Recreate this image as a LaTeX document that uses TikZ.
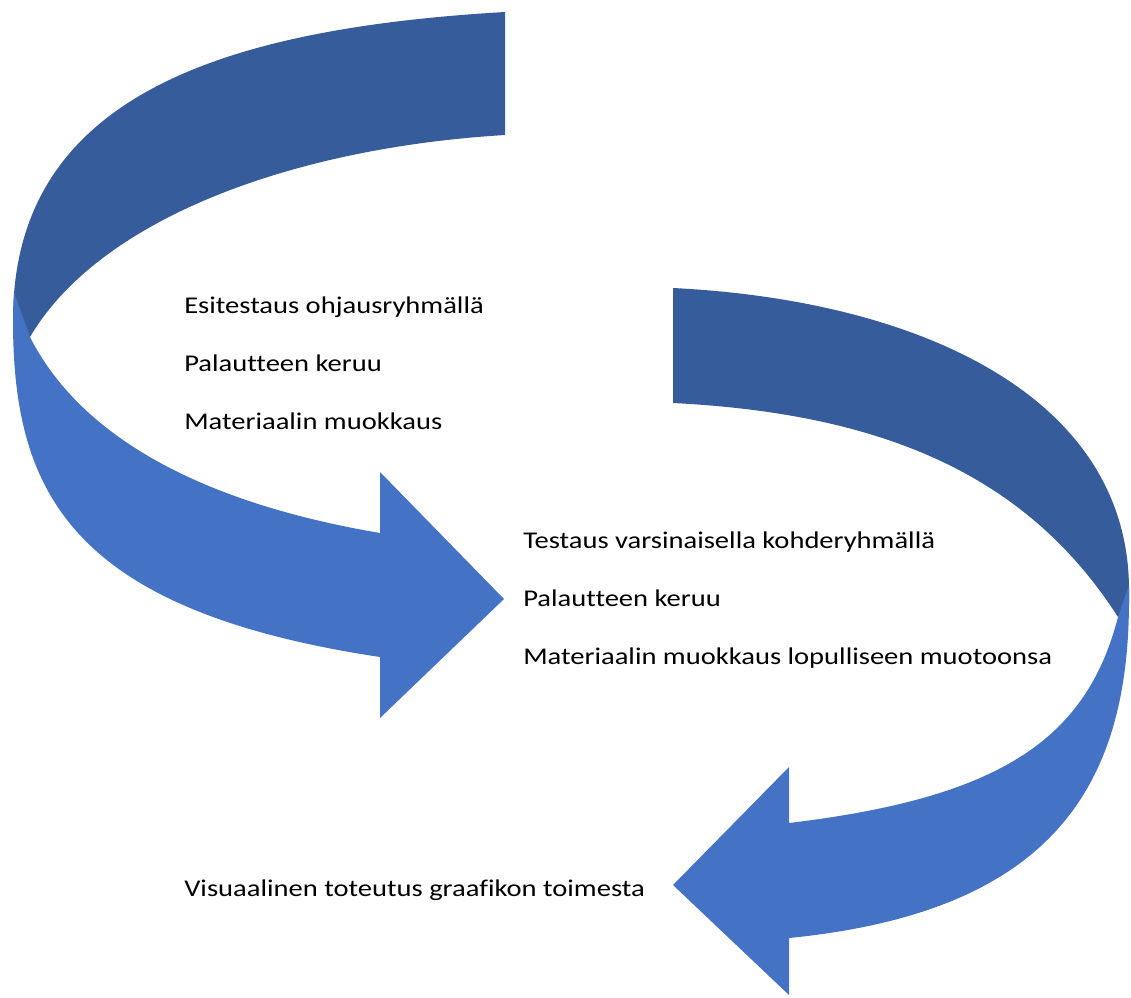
\documentclass[tikz,border=0pt]{standalone}
\usepackage{fontspec}
\setmainfont{Carlito}[FakeStretch=1.19, Ligatures=NoCommon]
\usetikzlibrary{positioning}
\definecolor{backblue}{HTML}{365C9B}
\definecolor{frontblue}{HTML}{4472C4}

\begin{document}
\begin{tikzpicture}[x=0.75pt,y=-0.75pt,node distance=27.1pt]
\tikzstyle{every node}=[font=\fontsize{18}{22}\selectfont, inner sep=0pt, text height=12.5pt, text depth=3.5pt, anchor=north west]
\tikzstyle{back}=[fill=backblue]
\tikzstyle{front}=[fill=frontblue]
\useasboundingbox (0,0) rectangle (1131,997);
% first arrow: back band, then front band with head
\fill[back] (505,12) .. controls (214,29) and (13,100) .. (13,320) -- (13,335) -- (30,337)
  .. controls (100.2,217.7) and (294.8,147.6) .. (505,135) -- cycle;
\fill[front] (14,292) -- (13,320) .. controls (13,491) and (69,610) .. (380,657)
  -- (380,718) -- (504,599) -- (380,472) -- (380,533)
  .. controls (156.6,495) and (66.7,409.6) .. (30,337) -- cycle;
% second arrow
\fill[back] (673,288) .. controls (923.7,300.5) and (1129,398.8) .. (1129,590) -- (1129,605) -- (1118,617)
  .. controls (1030.4,480.7) and (892.6,414) .. (673,403) -- cycle;
\fill[front] (1129,585) -- (1129,600) .. controls (1129,793.6) and (1045,912.4) .. (789,938)
  -- (789,995) -- (673,885) -- (789,767) -- (789,823)
  .. controls (998.2,797.9) and (1086.1,740.8) .. (1118,617) -- cycle;
% texts
\node (PRE) at (184,296.3) {Esitestaus ohjausryhmällä};
\node (PREFB) [below=of PRE.south west, anchor=north west] {Palautteen keruu};
\node (PREEDIT) [below=of PREFB.south west, anchor=north west] {Materiaalin muokkaus};
\node (TEST) at (523,531.3) {Testaus varsinaisella kohderyhmällä};
\node (TESTFB) [below=of TEST.south west, anchor=north west] {Palautteen keruu};
\node (TESTEDIT) [below=of TESTFB.south west, anchor=north west] {Materiaalin muokkaus lopulliseen muotoonsa};
\node (VISUAL) at (184,879.3) {Visuaalinen toteutus graafikon toimesta};
\end{tikzpicture}
\end{document}
